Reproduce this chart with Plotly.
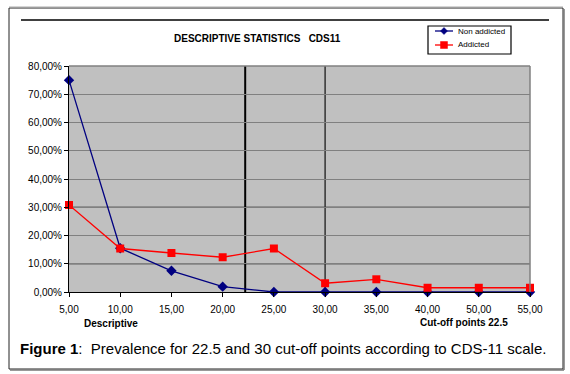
import plotly.graph_objects as go

categories = ["5,00", "10,00", "15,00", "20,00", "25,00", "30,00", "35,00", "40,00", "50,00", "55,00"]
non_addicted = [0.75, 0.155, 0.075, 0.019, 0.0, 0.0, 0.0, 0.0, 0.0, 0.0]
addicted = [0.308, 0.154, 0.138, 0.123, 0.154, 0.031, 0.045, 0.015, 0.015, 0.015]
y_ticks = [0, 0.1, 0.2, 0.3, 0.4, 0.5, 0.6, 0.7, 0.8]
y_ticktext = ["0,00%", "10,00%", "20,00%", "30,00%", "40,00%", "50,00%", "60,00%", "70,00%", "80,00%"]
cutoff_positions = [3.44, 5.0]  # in category-index units (22.5 and 30)
series_names = ["Non addicted", "Addicted"]
series_colors = ["#000080", "#FF0000"]

W, H = 570, 374
L, R, T, B = 69, 530, 66, 292

def px(x):
    return (x - L) / (R - L)

def py(y):
    return (B - y) / (B - T)

xi = list(range(len(categories)))
FONT = "Liberation Sans, Arial, sans-serif"

fig = go.Figure()
fig.add_trace(go.Scatter(
    x=xi, y=non_addicted, name=series_names[0], mode="lines+markers",
    line=dict(color=series_colors[0], width=1.3),
    marker=dict(symbol="diamond", size=8, color=series_colors[0]),
    cliponaxis=False, showlegend=False,
))
fig.add_trace(go.Scatter(
    x=xi, y=addicted, name=series_names[1], mode="lines+markers",
    line=dict(color=series_colors[1], width=1.3),
    marker=dict(symbol="square", size=8, color=series_colors[1]),
    cliponaxis=False, showlegend=False,
))

shapes = []
for yv in [0.3, 0.1]:
    shapes.append(dict(type="line", xref="paper", yref="y", x0=0, x1=1, y0=yv, y1=yv,
                       line=dict(color="#000000", width=1), layer="below"))
shapes.append(dict(type="line", xref="paper", yref="paper", x0=0, x1=1, y0=1, y1=1,
                   line=dict(color="#808080", width=1.5)))
shapes.append(dict(type="line", xref="paper", yref="paper", x0=1, x1=1, y0=0, y1=1,
                   line=dict(color="#808080", width=1.5)))
shapes.append(dict(type="line", xref="x", yref="paper", x0=cutoff_positions[0], x1=cutoff_positions[0],
                   y0=0, y1=1, line=dict(color="#000000", width=2), layer="below"))
shapes.append(dict(type="line", xref="x", yref="paper", x0=cutoff_positions[1], x1=cutoff_positions[1],
                   y0=0, y1=1, line=dict(color="#333333", width=1.5), layer="below"))
# outer frame
shapes.append(dict(type="rect", xref="paper", yref="paper", x0=px(9), x1=px(563), y0=py(369), y1=py(8),
                   line=dict(color="#222222", width=1)))
shapes.append(dict(type="line", xref="paper", yref="paper", x0=px(564), x1=px(564), y0=py(370), y1=py(9),
                   line=dict(color="#777777", width=1.5)))
shapes.append(dict(type="line", xref="paper", yref="paper", x0=px(10), x1=px(564), y0=py(370), y1=py(370),
                   line=dict(color="#777777", width=1.5)))
shapes.append(dict(type="line", xref="paper", yref="paper", x0=px(9), x1=px(563), y0=py(7), y1=py(7),
                   line=dict(color="#aaaaaa", width=1)))
# top rule
shapes.append(dict(type="line", xref="paper", yref="paper", x0=px(21), x1=px(549), y0=py(20), y1=py(20),
                   line=dict(color="#000000", width=1.5)))

# manual legend
shapes.append(dict(type="rect", xref="paper", yref="paper", x0=px(428), x1=px(511), y0=py(54), y1=py(26),
                   line=dict(color="#000000", width=1.2), fillcolor="#FFFFFF"))
legend_rows = [31, 45]
annotations = []
for i, (nm, col) in enumerate(zip(series_names, series_colors)):
    yy = legend_rows[i]
    shapes.append(dict(type="line", xref="paper", yref="paper", x0=px(435), x1=px(453), y0=py(yy), y1=py(yy),
                       line=dict(color=col, width=1.3)))
    cx = 444
    if i == 0:
        path = "M {} {} L {} {} L {} {} L {} {} Z".format(
            px(cx - 3.5), py(yy), px(cx), py(yy - 3.5), px(cx + 3.5), py(yy), px(cx), py(yy + 3.5))
        shapes.append(dict(type="path", xref="paper", yref="paper", path=path,
                           fillcolor=col, line=dict(color=col, width=0.5)))
    else:
        shapes.append(dict(type="rect", xref="paper", yref="paper", x0=px(cx - 3.5), x1=px(cx + 3.5),
                           y0=py(yy + 3.5), y1=py(yy - 3.5), fillcolor=col, line=dict(color=col, width=0.5)))
    annotations.append(dict(text=nm, x=px(456), y=py(yy), xref="paper", yref="paper", showarrow=False,
                            font=dict(size=8, color="#000000", family=FONT), xanchor="left", yanchor="middle"))

annotations += [
    dict(text="<b>DESCRIPTIVE STATISTICS   CDS11</b>", x=px(257), y=py(39), xref="paper", yref="paper",
         showarrow=False, font=dict(size=10, color="#000000", family=FONT), xanchor="center", yanchor="middle"),
    dict(text="<b>Descriptive</b>", x=px(111), y=py(323), xref="paper", yref="paper",
         showarrow=False, font=dict(size=10, color="#000000", family=FONT), xanchor="center", yanchor="middle"),
    dict(text="<b>Cut-off points 22.5</b>", x=px(464), y=py(322), xref="paper", yref="paper",
         showarrow=False, font=dict(size=10, color="#000000", family=FONT), xanchor="center", yanchor="middle"),
    dict(text="<b>Figure 1</b>:  Prevalence for 22.5 and 30 cut-off points according to CDS-11 scale.",
         x=px(18), y=py(348), xref="paper", yref="paper",
         showarrow=False, font=dict(size=15, color="#000000", family=FONT), xanchor="left", yanchor="middle"),
]

fig.update_layout(
    width=W, height=H,
    margin=dict(l=L, r=W - R, t=T, b=H - B, pad=0),
    paper_bgcolor="#FFFFFF",
    plot_bgcolor="#C0C0C0",
    font=dict(family=FONT, color="#000000", size=10),
    showlegend=False,
    shapes=shapes,
    annotations=annotations,
    xaxis=dict(range=[0, len(categories) - 1], tickmode="array", tickvals=xi, ticktext=categories,
               showgrid=False, zeroline=False, showline=True, linecolor="#000000", linewidth=1,
               ticks="outside", ticklen=4, tickcolor="#000000", tickfont=dict(size=10, family=FONT),
               ticklabelstandoff=4),
    yaxis=dict(range=[0, 0.8], tickmode="array", tickvals=y_ticks, ticktext=y_ticktext,
               showgrid=True, gridcolor="#808080", gridwidth=1, zeroline=False,
               showline=True, linecolor="#000000", linewidth=1,
               ticks="outside", ticklen=4, tickcolor="#000000", tickfont=dict(size=10, family=FONT)),
)

fig.write_html("out.html", config={"displayModeBar": False},
               post_script="document.body.style.margin='0px';document.body.style.overflow='hidden';")
